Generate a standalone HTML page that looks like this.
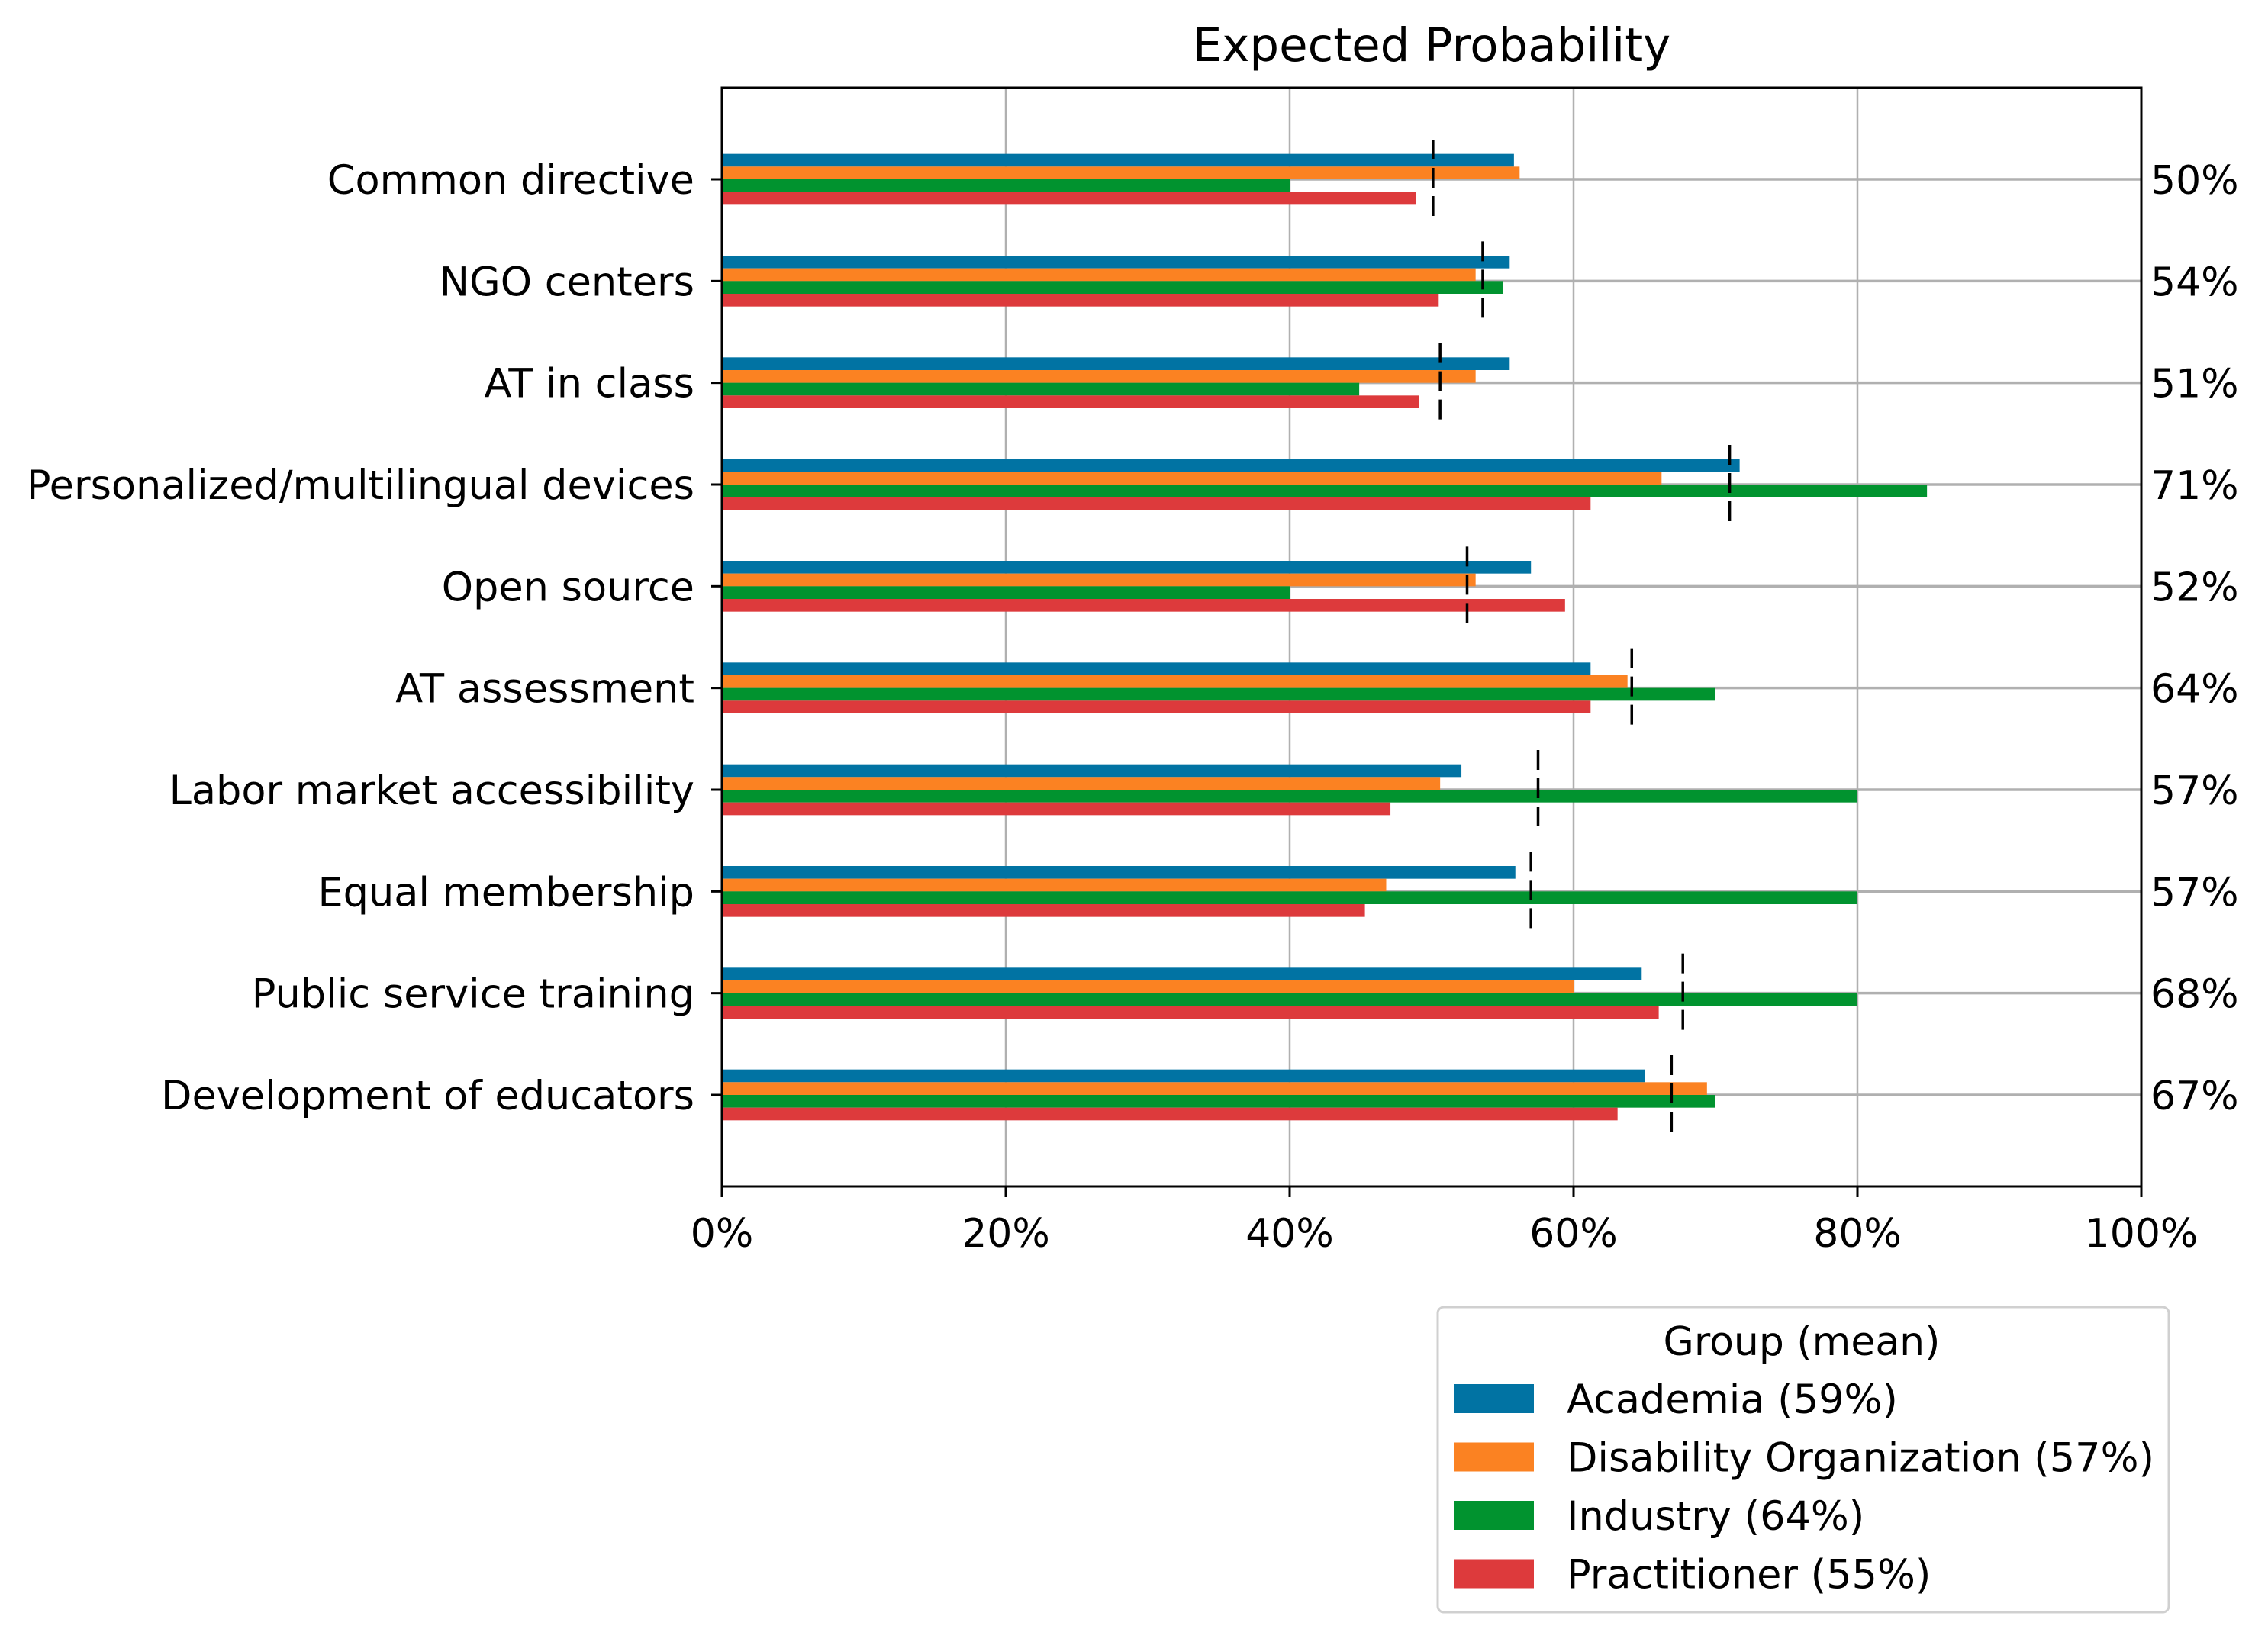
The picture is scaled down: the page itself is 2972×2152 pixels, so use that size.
<!DOCTYPE html>
<html><head><meta charset="utf-8"><style>
html,body{margin:0;padding:0;background:#fff;}
svg{display:block;font-family:"DejaVu Sans","Liberation Sans",sans-serif;}
</style></head><body>
<svg id="chart" width="2972" height="2152" viewBox="0 0 2972 2152" xmlns="http://www.w3.org/2000/svg">
<g id="grid"></g>
<g id="bars"></g>
<g id="means"></g>
<g id="axes"></g>
<text x="1876" y="80" font-size="61" text-anchor="middle">Expected Probability</text>
<g id="legend"></g>
</svg>
<script>
const categories = ["Common directive","NGO centers","AT in class","Personalized/multilingual devices","Open source","AT assessment","Labor market accessibility","Equal membership","Public service training","Development of educators"];
const academia = [55.8,55.5,55.5,71.7,57.0,61.2,52.1,55.9,64.8,65.0];
const disability = [56.2,53.1,53.1,66.2,53.1,63.8,50.6,46.8,60.0,69.4];
const industry = [40.0,55.0,44.9,84.9,40.0,70.0,80.0,80.0,80.0,70.0];
const practitioner = [48.9,50.5,49.1,61.2,59.4,61.2,47.1,45.3,66.0,63.1];
const means = [50.1,53.6,50.6,71.0,52.5,64.1,57.5,57.0,67.7,66.9];
const meanLabels = ["50%","54%","51%","71%","52%","64%","57%","57%","68%","67%"];
const xTicks = [0,20,40,60,80,100];
const xTickLabels = ["0%","20%","40%","60%","80%","100%"];
const groupNames = ["Academia (59%)","Disability Organization (57%)","Industry (64%)","Practitioner (55%)"];

const NS="http://www.w3.org/2000/svg";
const L=946,R=2806,T=115,B=1555;
const colors=["#0173a3","#fb8222","#01932f","#dd3a3c"];
const series=[academia,disability,industry,practitioner];
const n=categories.length;
// y-limits: categories at 0..n-1, with padding of ~0.9 category units
const pad=0.9;
const step=(B-T)/(n-1+2*pad);
function xs(v){return L+(v/100)*(R-L);}
function yc(i){return T+step*(i+pad);}
function mk(parent,tag,attrs){const e=document.createElementNS(NS,tag);for(const k in attrs)e.setAttribute(k,attrs[k]);parent.appendChild(e);return e;}

const grid=document.getElementById('grid');
xTicks.forEach((t,i)=>{ if(t>0&&t<100){const l=mk(grid,'line',{x1:xs(t),x2:xs(t),y1:T,y2:B,stroke:'#b0b0b0','stroke-width':2.5});

}});
categories.forEach((c,i)=>{const l=mk(grid,'line',{x1:L,x2:R,y1:yc(i),y2:yc(i),stroke:'#b0b0b0','stroke-width':3.5});

});

const bars=document.getElementById('bars');
const bh=step*0.125;
categories.forEach((c,i)=>{
  series.forEach((s,j)=>{
    const y=yc(i)-2*bh+j*bh;
    const r=mk(bars,'rect',{x:L,y:y,width:xs(s[i])-L,height:bh,fill:colors[j]});
    
    
  });
});
const mg=document.getElementById('means');
categories.forEach((c,i)=>{
  const l=mk(mg,'line',{x1:xs(means[i]),x2:xs(means[i]),y1:yc(i)-52,y2:yc(i)+52,stroke:'#000','stroke-width':3.5,'stroke-dasharray':'26,11'});
  
  
});

const ax=document.getElementById('axes');
const fr=mk(ax,'rect',{x:L,y:T,width:R-L,height:B-T,fill:'none',stroke:'#000','stroke-width':3});


xTicks.forEach((t,i)=>{
  mk(ax,'line',{x1:xs(t),x2:xs(t),y1:B,y2:B+14,stroke:'#000','stroke-width':3});
  const tx=mk(ax,'text',{x:xs(t),y:1634,'font-size':52,'text-anchor':'middle'});
  tx.textContent=xTickLabels[i];
  
  
});
categories.forEach((c,i)=>{
  mk(ax,'line',{x1:L-14,x2:L,y1:yc(i),y2:yc(i),stroke:'#000','stroke-width':3});
  const tx=mk(ax,'text',{x:910,y:yc(i)+19,'font-size':52.5,'text-anchor':'end'});
  tx.textContent=c;
  
  
  const tr=mk(ax,'text',{x:2818,y:yc(i)+19,'font-size':52});
  tr.textContent=meanLabels[i];
  
  
});

const lg=document.getElementById('legend');
const box=mk(lg,'rect',{x:1884,y:1713,width:958,height:400,rx:8,fill:'#fff',stroke:'#d0d0d0','stroke-width':3});


const lt=mk(lg,'text',{x:2361,y:1776,'font-size':52,'text-anchor':'middle'});
lt.textContent='Group (mean)';


groupNames.forEach((g,j)=>{
  const cy=1833+j*76.5;
  const p=mk(lg,'rect',{x:1905,y:cy-19,width:105,height:38,fill:colors[j]});
  
  
  const t=mk(lg,'text',{x:2053,y:cy+19,'font-size':52.5});
  t.textContent=g;
  
  
});
</script>
</body></html>
